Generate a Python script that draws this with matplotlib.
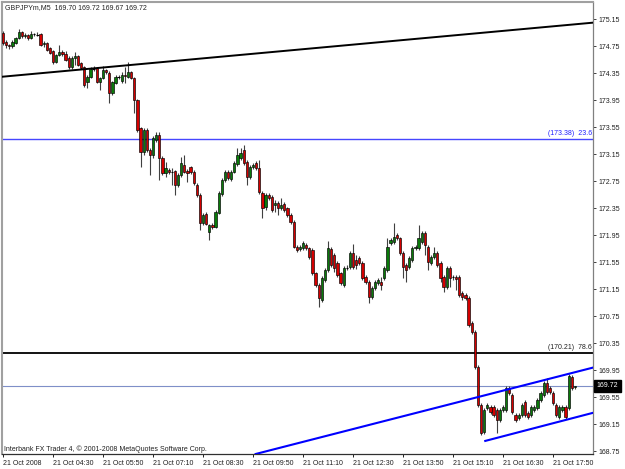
import matplotlib
matplotlib.use('Agg')
import matplotlib.pyplot as plt
from matplotlib.patches import Rectangle
import matplotlib.transforms as mtransforms

plt.rcParams['font.family'] = ['Liberation Sans', 'DejaVu Sans']

# ---------------- data (GBPJPYm, M5, 21 Oct 2008, from 03:10) ----------------
opens = [
    174.95,174.82,174.77,174.75,174.80,174.88,174.96,174.90,174.92,174.88,
    174.93,174.92,174.93,174.78,174.80,174.72,174.68,174.52,174.62,174.66,
    174.64,174.58,174.44,174.58,174.60,174.50,174.44,174.22,174.30,174.42,
    174.43,174.22,174.28,174.40,174.36,174.06,174.21,174.29,174.24,174.33,
    174.30,174.37,174.28,173.95,173.54,173.18,173.51,173.21,173.14,173.36,
    173.44,173.10,172.87,172.92,172.89,172.90,172.70,172.84,172.99,172.90,
    172.96,172.89,172.70,172.55,172.13,172.27,172.00,172.10,172.08,172.28,
    172.56,172.77,172.89,172.78,172.89,173.00,173.10,173.21,173.04,172.81,
    172.96,173.02,172.95,172.58,172.37,172.55,172.52,172.40,172.43,172.35,
    172.42,172.35,172.25,172.15,171.78,171.75,171.76,171.81,171.76,171.73,
    171.39,171.21,170.99,171.29,171.44,171.75,171.66,171.54,171.39,171.21,
    171.47,171.48,171.69,171.58,171.61,171.54,171.33,171.26,171.04,171.17,
    171.24,171.26,171.32,171.44,171.84,171.85,171.95,171.91,171.69,171.51,
    171.48,171.58,171.76,171.76,171.85,171.98,171.78,171.54,171.63,171.69,
    171.54,171.33,171.19,171.47,171.33,171.33,171.33,171.10,171.07,171.02,
    170.65,170.52,170.00,169.44,169.04,169.39,169.41,169.41,169.36,169.21,
    169.36,169.36,169.69,169.58,169.29,169.24,169.29,169.48,169.32,169.29,
    169.36,169.39,169.51,169.58,169.76,169.69,169.61,169.44,169.26,169.36,
    169.41,169.39,169.85,169.70]
highs = [
    174.98,174.84,174.78,174.84,174.89,175.00,174.98,174.95,174.93,174.97,
    174.95,174.96,174.95,174.83,174.82,174.74,174.70,174.64,174.77,174.69,
    174.68,174.60,174.60,174.67,174.62,174.52,174.46,174.33,174.44,174.46,
    174.45,174.30,174.46,174.42,174.38,174.24,174.32,174.33,174.37,174.44,
    174.52,174.39,174.30,173.97,173.56,173.54,173.54,173.24,173.42,173.48,
    173.48,173.12,173.04,172.95,172.95,172.92,172.87,173.11,173.14,172.93,
    172.98,172.91,172.72,172.57,172.28,172.30,172.12,172.13,172.32,172.60,
    172.80,172.92,172.92,172.92,173.05,173.24,173.24,173.29,173.07,172.99,
    173.02,173.05,173.07,172.60,172.58,172.58,172.55,172.47,172.46,172.50,
    172.44,172.37,172.28,172.18,171.81,171.81,171.87,171.84,171.78,171.76,
    171.41,171.24,171.35,171.47,171.87,171.78,171.69,171.57,171.41,171.50,
    171.51,171.72,171.82,171.66,171.64,171.57,171.36,171.29,171.20,171.29,
    171.32,171.33,171.50,171.91,171.91,172.13,171.98,171.93,171.72,171.54,
    171.64,171.79,171.81,172.10,172.01,172.01,171.81,171.66,171.78,171.72,
    171.57,171.36,171.50,171.50,171.36,171.36,171.36,171.13,171.10,171.05,
    170.68,170.55,170.03,169.47,169.39,169.47,169.44,169.44,169.39,169.39,
    169.44,169.72,169.72,169.61,169.32,169.32,169.47,169.51,169.35,169.44,
    169.44,169.54,169.64,169.79,169.84,169.72,169.64,169.47,169.44,169.44,
    169.44,169.90,169.88,169.72]
lows = [
    174.77,174.73,174.71,174.72,174.78,174.86,174.88,174.88,174.85,174.86,
    174.90,174.90,174.75,174.74,174.68,174.63,174.49,174.50,174.60,174.60,
    174.53,174.42,174.42,174.47,174.46,174.41,174.15,174.13,174.28,174.39,
    174.20,174.10,174.26,174.34,173.91,174.03,174.19,174.26,174.21,174.21,
    174.28,174.26,173.76,173.48,172.96,173.14,173.18,172.84,173.10,173.33,
    172.77,172.84,172.81,172.86,172.70,172.55,172.67,172.81,172.87,172.74,
    172.86,172.70,172.52,172.03,172.10,172.10,171.88,172.04,172.06,172.26,
    172.53,172.74,172.77,172.75,172.87,172.97,173.07,172.99,172.70,172.78,
    172.93,172.92,172.56,172.21,172.33,172.47,172.30,172.30,172.25,172.33,
    172.30,172.22,172.12,171.76,171.70,171.72,171.73,171.73,171.60,171.36,
    171.18,170.89,170.96,171.26,171.41,171.48,171.41,171.33,171.21,171.18,
    171.44,171.45,171.45,171.45,171.51,171.29,171.23,170.95,171.01,171.14,
    171.21,171.14,171.29,171.41,171.81,171.82,171.88,171.66,171.32,171.26,
    171.45,171.55,171.73,171.73,171.82,171.66,171.44,171.51,171.60,171.48,
    171.26,171.11,171.16,171.19,171.29,171.14,171.04,170.99,170.99,170.59,
    170.49,169.97,169.41,168.99,169.01,169.36,169.30,169.26,169.02,169.18,
    169.33,169.33,169.58,169.30,169.18,169.21,169.26,169.26,169.23,169.26,
    169.33,169.36,169.48,169.55,169.60,169.60,169.44,169.26,169.23,169.33,
    169.23,169.36,169.66,169.67]
closes = [
    174.80,174.77,174.75,174.81,174.87,174.96,174.90,174.92,174.88,174.93,
    174.92,174.93,174.77,174.80,174.70,174.65,174.52,174.62,174.66,174.63,
    174.55,174.44,174.58,174.61,174.48,174.43,174.18,174.30,174.42,174.43,
    174.22,174.28,174.40,174.37,174.06,174.22,174.30,174.30,174.33,174.31,
    174.37,174.28,173.95,173.51,173.18,173.51,173.21,173.14,173.39,173.44,
    173.10,172.87,172.95,172.89,172.90,172.70,172.84,173.02,172.89,172.88,
    172.89,172.72,172.55,172.13,172.25,172.12,172.10,172.08,172.30,172.58,
    172.77,172.89,172.80,172.89,173.02,173.14,173.17,173.02,172.81,172.96,
    172.99,172.95,172.59,172.35,172.55,172.50,172.33,172.43,172.35,172.40,
    172.33,172.25,172.15,171.78,171.73,171.78,171.84,171.76,171.63,171.39,
    171.21,171.02,171.32,171.44,171.76,171.51,171.47,171.36,171.24,171.47,
    171.48,171.69,171.48,171.51,171.54,171.32,171.26,171.04,171.17,171.26,
    171.29,171.21,171.47,171.78,171.88,171.92,171.91,171.69,171.48,171.44,
    171.61,171.76,171.78,171.91,171.98,171.81,171.55,171.63,171.69,171.51,
    171.32,171.19,171.47,171.32,171.32,171.30,171.07,171.04,171.02,170.62,
    170.52,170.00,169.44,169.02,169.36,169.44,169.33,169.29,169.21,169.36,
    169.41,169.69,169.61,169.33,169.21,169.29,169.44,169.29,169.26,169.41,
    169.41,169.51,169.61,169.76,169.63,169.63,169.47,169.29,169.41,169.41,
    169.26,169.87,169.69,169.72]

time_tick_bars = [0, 16, 32, 48, 64, 80, 96, 112, 128, 144, 160, 176]
time_tick_labels = ['21 Oct 2008', '21 Oct 04:30', '21 Oct 05:50', '21 Oct 07:10',
                    '21 Oct 08:30', '21 Oct 09:50', '21 Oct 11:10', '21 Oct 12:30',
                    '21 Oct 13:50', '21 Oct 15:10', '21 Oct 16:30', '21 Oct 17:50']
price_ticks = [175.15, 174.75, 174.35, 173.95, 173.55, 173.15, 172.75, 172.35,
               171.95, 171.55, 171.15, 170.75, 170.35, 169.95, 169.55, 169.15, 168.75]

fib_prices = [173.38, 170.21]
fib_names = ['23.6', '78.6']
bid_price = 169.72
title_text = 'GBPJPYm,M5  169.70 169.72 169.67 169.72'
footer_text = 'Interbank FX Trader 4, \u00a9 2001-2008 MetaQuotes Software Corp.'

# trend line anchors (bar index, price)
black_trend = [(0, 174.30), (188.8, 175.10)]
channel_upper = [(80, 168.70), (188.8, 169.99)]
channel_lower = [(154, 168.90), (188.8, 169.32)]

# ---------------- figure ----------------
W, H = 625, 469
fig = plt.figure(figsize=(W / 100, H / 100), dpi=100)
fig.patch.set_facecolor('white')
ax = fig.add_axes([2 / W, (H - 454) / H, 591 / W, 452 / H])
ax.set_facecolor('white')
ax.set_xlim(-0.32, 188.8)
ax.set_ylim(168.710, 175.406)

RED = '#d40000'
GREEN = '#0a7a0a'
for i, (o, h, l, c) in enumerate(zip(opens, highs, lows, closes)):
    ax.vlines(i, min(l, o, c), max(h, o, c), color='#404040', lw=0.8, zorder=2)
    bottom = min(o, c)
    height = abs(c - o)
    if height < 0.012:
        ax.hlines(o, i - 0.38, i + 0.38, color='black', lw=0.8, zorder=3)
    else:
        ax.add_patch(Rectangle((i - 0.36, bottom), 0.72, height,
                               facecolor=GREEN if c > o else RED,
                               edgecolor='black', lw=0.45, zorder=3))

# horizontal fib lines
ax.axhline(fib_prices[0], color='#4646ff', lw=1.0, zorder=1)
ax.axhline(fib_prices[1], color='black', lw=1.3, zorder=1)
ax.text(188.4, fib_prices[0] + 0.02, '(%.2f)  %s' % (fib_prices[0], fib_names[0]),
        color='#2020ff', fontsize=5, ha='right', va='bottom')
ax.text(188.4, fib_prices[1] + 0.02, '(%.2f)  %s' % (fib_prices[1], fib_names[1]),
        color='#202020', fontsize=5, ha='right', va='bottom')

# bid line
ax.axhline(bid_price, color='#7f8fc8', lw=0.8, zorder=1)

# trend lines
ax.axline(black_trend[0], black_trend[1], color='black', lw=1.4, zorder=4)
ax.axline(channel_upper[0], channel_upper[1], color='#0000ff', lw=1.5, zorder=4)
slope = (channel_lower[1][1] - channel_lower[0][1]) / (channel_lower[1][0] - channel_lower[0][0])
ax.plot([channel_lower[0][0], 200], [channel_lower[0][1], channel_lower[0][1] + slope * (200 - channel_lower[0][0])],
        color='#0000ff', lw=1.5, zorder=4, solid_capstyle='butt')

# axes styling
for side in ['left', 'top']:
    ax.spines[side].set_color('#a0a0a0')
    ax.spines[side].set_linewidth(1.5)
ax.spines['right'].set_color('#808080')
ax.spines['right'].set_linewidth(0.9)
ax.spines['bottom'].set_color('#303030')
ax.spines['bottom'].set_linewidth(0.9)

ax.yaxis.tick_right()
ax.set_yticks(price_ticks)
ax.set_yticklabels(['%.2f' % p for p in price_ticks])
ax.tick_params(axis='y', length=2.5, width=0.7, color='#404040', pad=1.5,
               labelsize=5, labelcolor='#202020')
ax.set_xticks(time_tick_bars)
ax.set_xticklabels(time_tick_labels)
ax.tick_params(axis='x', length=2.5, width=0.7, color='#202020', pad=1.5,
               labelsize=5, labelcolor='#202020')
for lbl in ax.get_xticklabels():
    lbl.set_ha('left')

# bid price box on the axis
trans = mtransforms.blended_transform_factory(ax.transAxes, ax.transData)
ax.text(1.006, bid_price, '%.2f' % bid_price, transform=trans, color='white',
        fontsize=5, ha='left', va='center', clip_on=False,
        bbox=dict(facecolor='black', edgecolor='black', boxstyle='square,pad=0.4'))

fig.text(5 / W, 1 - 8 / H, title_text, fontsize=5, color='#202020', va='center', ha='left')
fig.text(4 / W, 1 - 449 / H, footer_text, fontsize=5, color='#202020', va='center', ha='left')

fig.savefig('out.png', dpi=100, facecolor='white')
